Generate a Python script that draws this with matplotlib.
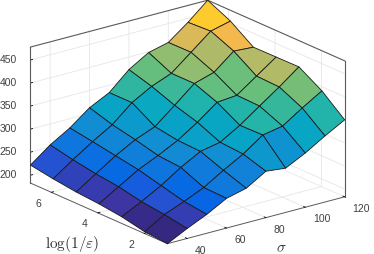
"""Surface of runtime over sigma and log(1/eps), MATLAB-style 3D view."""
import numpy as np
import matplotlib
matplotlib.use("Agg")
import matplotlib.pyplot as plt
from matplotlib.colors import LinearSegmentedColormap

plt.rcParams["font.family"] = ["Liberation Sans", "DejaVu Sans"]
plt.rcParams["mathtext.fontset"] = "cm"

sigma = [30, 40, 50, 60, 70, 80, 90, 100, 110, 120]
log_eps = [1.0, 1.98, 2.97, 3.95, 4.93, 5.92, 6.9]

z_row0 = [183, 204.5, 224, 247.4, 258, 283.6, 279, 300.6, 326.4, 350]
z_row1 = [187, 213, 230, 249, 275, 299, 329, 337, 365, 391]
z_row2 = [197.5, 219, 242.5, 270.5, 294, 302.5, 328, 358.5, 388.6, 421]
z_row3 = [203.6, 229.4, 255, 274.5, 296, 324, 356, 360, 390.4, 420.5]
z_row4 = [207.5, 235.5, 263.5, 287, 304, 339, 375, 388, 422.7, 420]
z_row5 = [214, 244, 272, 297.5, 334, 358, 375, 409.4, 444, 454.6]
z_row6 = [222, 254.4, 280, 312.5, 334, 372.6, 398.4, 409, 441.3, 478]

z_ticks = [200, 250, 300, 350, 400, 450]
sigma_ticks = [40, 60, 80, 100, 120]
eps_ticks = [2, 4, 6]

Z = np.array([z_row0, z_row1, z_row2, z_row3, z_row4, z_row5, z_row6])
X, Y = np.meshgrid(sigma, log_eps)

# parula-like, hand-fitted to the picture
parula = LinearSegmentedColormap.from_list("parula", [
    (0.00, (0.205, 0.155, 0.500)),
    (0.05, (0.240, 0.210, 0.640)),
    (0.08, (0.190, 0.250, 0.720)),
    (0.105, (0.140, 0.330, 0.830)),
    (0.14, (0.020, 0.400, 0.900)),
    (0.20, (0.060, 0.460, 0.870)),
    (0.30, (0.070, 0.550, 0.830)),
    (0.40, (0.030, 0.650, 0.770)),
    (0.50, (0.150, 0.710, 0.650)),
    (0.60, (0.420, 0.750, 0.480)),
    (0.70, (0.700, 0.730, 0.400)),
    (0.81, (0.950, 0.720, 0.310)),
    (0.89, (1.000, 0.800, 0.180)),
    (1.00, (0.977, 0.984, 0.081)),
])

ZMIN, ZMAX = 183, 478
colors = parula((Z - ZMIN) / (ZMAX - ZMIN))

fig = plt.figure(figsize=(3.74, 2.55), dpi=100)
# 3D axes are forced square, so make it figure-wide and let it overhang
ax = fig.add_axes([-4.5 / 374, -60 / 255, 1, 374 / 255], projection="3d", proj_type="ortho")
ax.set_box_aspect((1, 1, 0.646), zoom=0.904)
ax.view_init(elev=20, azim=-127.7)

ax.plot_surface(X, Y, Z, facecolors=colors, rstride=1, cstride=1, shade=False,
                edgecolor=(0.1, 0.1, 0.1), linewidth=0.6, antialiased=True)

ax.set_xlim(30, 120, view_margin=0)
ax.set_ylim(1, 6.9, view_margin=0)
ax.set_zlim(ZMIN, ZMAX, view_margin=0)
ax.set_xticks(sigma_ticks)
ax.set_yticks(eps_ticks)
ax.set_zticks(z_ticks)

grey = (0.35, 0.35, 0.35)
for axis in (ax.xaxis, ax.yaxis, ax.zaxis):
    axis.set_pane_color((1, 1, 1, 0))
    axis.pane.set_edgecolor((1, 1, 1, 0))
    axis.line.set_color(grey)
    axis.line.set_linewidth(0.7)
    axis._axinfo["grid"]["color"] = (0.9, 0.9, 0.9)
    axis._axinfo["grid"]["linewidth"] = 0.6
    axis._axinfo["tick"]["inward_factor"] = 0.0
    axis._axinfo["tick"]["outward_factor"] = 0.15
    axis._axinfo["tick"]["linewidth"] = {True: 0.6, False: 0.4}
    axis._axinfo["tick"]["color"] = grey
ax.tick_params(labelsize=7.5, labelcolor=(0.25, 0.25, 0.25), pad=0)
ax.tick_params(axis="z", pad=2)

# transforms get reset in 3D, alignment is what survives to place the labels
plt.setp(ax.get_xticklabels(), ha="left", va="center")
plt.setp(ax.get_yticklabels(), ha="right", va="center")
plt.setp(ax.get_zticklabels(), ha="center", va="center")

# upper box edges
for xs, ys, zs in [
    ((30, 30), (6.9, 6.9), (ZMIN, ZMAX)),
    ((120, 120), (1, 1), (ZMIN, ZMAX)),
    ((30, 120), (6.9, 6.9), (ZMAX, ZMAX)),
    ((120, 120), (1, 6.9), (ZMAX, ZMAX)),
]:
    ax.plot(xs, ys, zs, color=grey, lw=0.8, zorder=0)

fig.text(72 / 374, 1 - 244 / 255, r"$\log(1/\varepsilon)$", fontsize=11,
         ha="center", va="center", color=(0.2, 0.2, 0.2))
fig.text(281 / 374, 1 - 248 / 255, r"$\sigma$", fontsize=11,
         ha="center", va="center", color=(0.2, 0.2, 0.2))

fig.savefig("out.png", dpi=100)
